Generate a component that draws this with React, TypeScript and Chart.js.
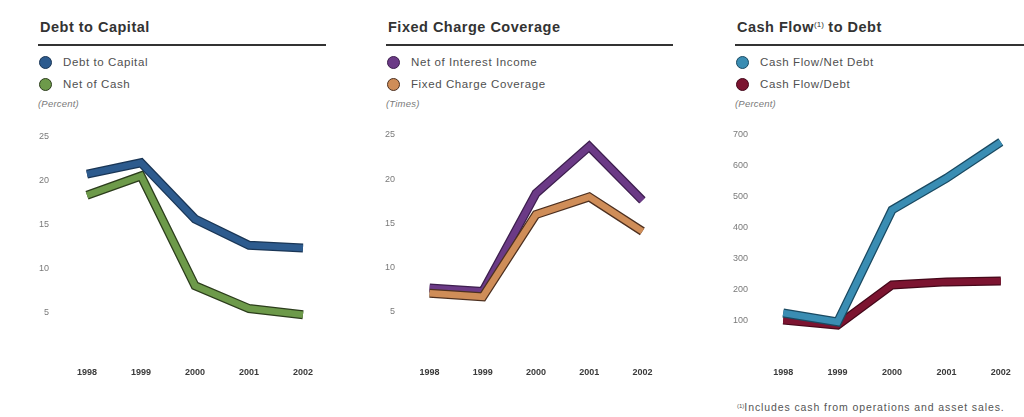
import React, { useEffect, useRef } from "react";
import { Chart, registerables } from "chart.js";
Chart.register(...registerables);

const years = ["1998", "1999", "2000", "2001", "2002"];
const debtToCapital = [20.7, 22.0, 15.6, 12.6, 12.3];
const netOfCash = [18.3, 20.5, 8.0, 5.4, 4.7];
const netOfInterestIncome = [7.7, 7.3, 18.4, 23.7, 17.6];
const fixedChargeCoverage = [7.1, 6.7, 16.0, 18.0, 14.1];
const cashFlowNetDebt = [123, 94, 457, 560, 677];
const cashFlowDebt = [100, 84, 214, 224, 227];
const ratioTicks = [5, 10, 15, 20, 25];
const cashTicks = [100, 200, 300, 400, 500, 600, 700];

const FONT = "'Liberation Sans', Arial, Helvetica, sans-serif";

type Series = { label: string; data: number[]; color: string; outline: string };

type ChartProps = {
  left: number;
  top: number;
  width: number;
  height: number;
  yWidth: number;
  tickPad: number;
  xPad: number;
  xHeight: number;
  yMax: number;
  ticks: number[];
  series: Series[];
};

function LineChart(p: ChartProps) {
  const ref = useRef<HTMLCanvasElement>(null);
  useEffect(() => {
    if (!ref.current) return;
    const datasets: any[] = [];
    p.series.forEach((s, i) => {
      datasets.push({
        label: s.label,
        data: s.data,
        borderColor: s.color,
        borderWidth: 6.5,
        order: i * 2,
        fill: false,
      });
      datasets.push({
        label: s.label + " outline",
        data: s.data,
        borderColor: s.outline,
        borderWidth: 9,
        order: i * 2 + 1,
        fill: false,
      });
    });
    const chart = new Chart(ref.current, {
      type: "line",
      data: { labels: years, datasets },
      options: {
        animation: false,
        responsive: false,
        maintainAspectRatio: false,
        devicePixelRatio: 1,
        layout: { padding: { top: 15, left: 0, right: 0, bottom: 0 } },
        plugins: { legend: { display: false }, tooltip: { enabled: false } },
        elements: {
          point: { radius: 0 },
          line: { tension: 0, borderJoinStyle: "miter", borderCapStyle: "butt" },
        },
        scales: {
          x: {
            offset: true,
            grid: { display: false, drawTicks: false },
            border: { display: false },
            ticks: {
              padding: p.xPad,
              color: "#3a3a3a",
              maxRotation: 0,
              font: { family: FONT, size: 9, weight: "bold" },
            },
            afterFit: (s: any) => {
              s.height = p.xHeight;
            },
          },
          y: {
            min: 0,
            max: p.yMax,
            grid: { display: false, drawTicks: false },
            border: { display: false },
            afterBuildTicks: (s: any) => {
              s.ticks = p.ticks.map((v) => ({ value: v }));
            },
            ticks: {
              padding: p.tickPad,
              color: "#7a7a7a",
              font: { family: FONT, size: 9 },
            },
            afterFit: (s: any) => {
              s.width = p.yWidth;
            },
          },
        },
      } as any,
    });
    return () => chart.destroy();
  }, []);
  return (
    <canvas
      ref={ref}
      width={p.width}
      height={p.height}
      style={{ position: "absolute", left: p.left, top: p.top, width: p.width, height: p.height }}
    />
  );
}

function Header(props: {
  left: number;
  lineWidth: number;
  title: React.ReactNode;
  series: Series[];
  unit: string;
}) {
  const { left, lineWidth, title, series, unit } = props;
  return (
    <>
      <div
        style={{
          position: "absolute",
          left: left + 2,
          top: 18,
          fontFamily: FONT,
          fontWeight: "bold",
          fontSize: 14.5,
          letterSpacing: 0.5,
          lineHeight: "18px",
          color: "#333",
          whiteSpace: "nowrap",
        }}
      >
        {title}
      </div>
      <div
        style={{
          position: "absolute",
          left,
          top: 44,
          width: lineWidth,
          height: 1.5,
          background: "#333",
        }}
      />
      {series.map((s, i) => (
        <React.Fragment key={s.label}>
          <div
            style={{
              position: "absolute",
              left: left + 1,
              top: 56 + i * 22,
              width: 11,
              height: 11,
              borderRadius: "50%",
              background: s.color,
              border: "1px solid " + s.outline,
            }}
          />
          <div
            style={{
              position: "absolute",
              left: left + 25,
              top: 55 + i * 22,
              fontFamily: FONT,
              fontSize: 11.5,
              letterSpacing: 0.6,
              lineHeight: "14px",
              color: "#505050",
              whiteSpace: "nowrap",
            }}
          >
            {s.label}
          </div>
        </React.Fragment>
      ))}
      <div
        style={{
          position: "absolute",
          left: left,
          top: 98,
          fontFamily: FONT,
          fontStyle: "italic",
          fontSize: 9.5,
          letterSpacing: 0.2,
          lineHeight: "12px",
          color: "#7a7a7a",
          whiteSpace: "nowrap",
        }}
      >
        {unit}
      </div>
    </>
  );
}

export default function App() {
  const s1: Series[] = [
    { label: "Debt to Capital", data: debtToCapital, color: "#2d5b8e", outline: "#1a3656" },
    { label: "Net of Cash", data: netOfCash, color: "#6d9a4a", outline: "#2c3d1c" },
  ];
  const s2: Series[] = [
    { label: "Net of Interest Income", data: netOfInterestIncome, color: "#6b3a86", outline: "#3d1f4e" },
    { label: "Fixed Charge Coverage", data: fixedChargeCoverage, color: "#cf8d58", outline: "#4d3020" },
  ];
  const s3: Series[] = [
    { label: "Cash Flow/Net Debt", data: cashFlowNetDebt, color: "#3a8db3", outline: "#1a4a62" },
    { label: "Cash Flow/Debt", data: cashFlowDebt, color: "#7c1430", outline: "#45081a" },
  ];
  return (
    <div
      style={{
        position: "absolute",
        left: 0,
        top: 0,
        width: 1024,
        height: 417,
        overflow: "hidden",
        background: "#fff",
      }}
    >
      <Header left={38} lineWidth={288} title="Debt to Capital" series={s1} unit="(Percent)" />
      <Header left={386} lineWidth={287} title="Fixed Charge Coverage" series={s2} unit="(Times)" />
      <Header
        left={735}
        lineWidth={289}
        title={
          <span>
            Cash Flow
            <sup style={{ fontSize: 8, fontWeight: "normal", letterSpacing: 0, verticalAlign: "5px", lineHeight: 0 }}>(1)</sup> to Debt
          </span>
        }
        series={s3}
        unit="(Percent)"
      />
      <LineChart
        left={10}
        top={120}
        width={320}
        height={266}
        yWidth={50}
        tickPad={11}
        xPad={11}
        xHeight={30}
        yMax={25}
        ticks={ratioTicks}
        series={s1}
      />
      <LineChart
        left={360}
        top={120}
        width={309}
        height={266}
        yWidth={43}
        tickPad={8}
        xPad={11}
        xHeight={30}
        yMax={25}
        ticks={ratioTicks}
        series={[s2[1], s2[0]]}
      />
      <LineChart
        left={710}
        top={120}
        width={318}
        height={266}
        yWidth={46}
        tickPad={8}
        xPad={16}
        xHeight={35}
        yMax={700}
        ticks={cashTicks}
        series={s3}
      />
      <div
        style={{
          position: "absolute",
          left: 737,
          top: 402,
          fontFamily: FONT,
          fontSize: 10.5,
          letterSpacing: 0.9,
          lineHeight: "10px",
          color: "#555",
          whiteSpace: "nowrap",
        }}
      >
        <sup style={{ fontSize: 6, letterSpacing: 0, verticalAlign: "3px", lineHeight: 0 }}>(1)</sup>Includes cash from operations and asset sales.
      </div>
    </div>
  );
}
